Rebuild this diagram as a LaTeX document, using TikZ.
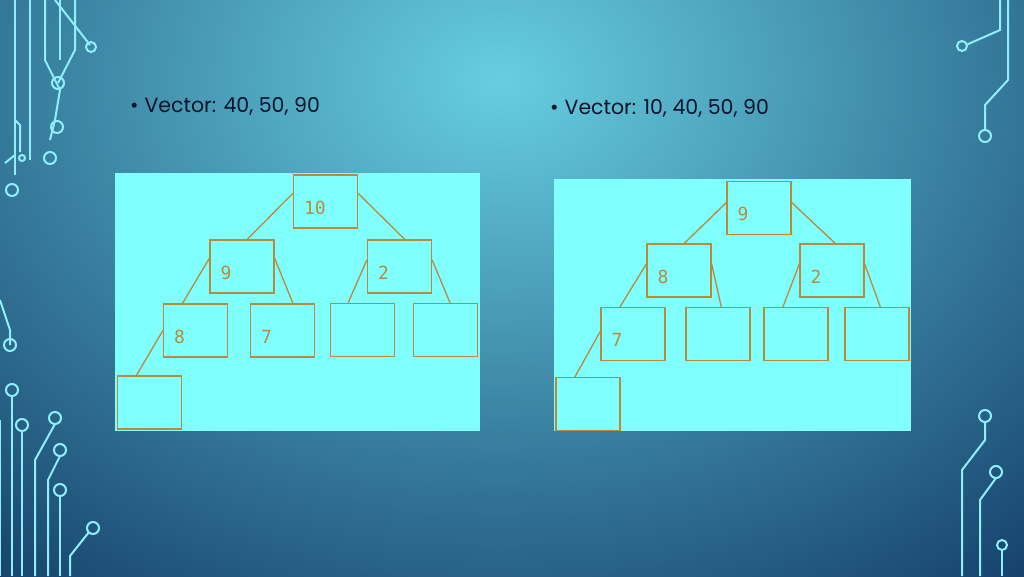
\documentclass[tikz,border=0pt]{standalone}
\usepackage{fontspec}
\setmainfont{Poppins}
\setmonofont{DejaVu Sans Mono}
\usetikzlibrary{calc}
\definecolor{panel}{HTML}{80FFFF}
\definecolor{bord}{HTML}{B98A3A}
\definecolor{circ}{HTML}{8FEFFA}
\definecolor{ink}{HTML}{08142A}
\definecolor{bgbot}{HTML}{0E3562}
\definecolor{glow}{HTML}{66CEE0}
\tikzset{
  bx/.style={draw=bord,line width=1.3pt,minimum width=64pt,minimum height=53pt,inner sep=0pt},
  lbl/.style={text=bord,font=\ttfamily\fontsize{18}{18}\selectfont,anchor=west,xshift=11pt,yshift=-6pt,inner sep=0pt},
  ed/.style={draw=bord,line width=1.3pt},
  ct/.style={draw=circ,line width=2pt},
  bul/.style={text=ink,font=\fontsize{20.5}{20.5}\selectfont,anchor=west,inner sep=0pt}
}
\newcommand{\mybox}[4]{\node[bx] (#1) at (#2,#3) {}; \node[lbl] (#1l) at (#1.west) {#4};}
\begin{document}
\begin{tikzpicture}[x=1pt,y=-1pt]
\useasboundingbox (0,0) rectangle (1024,576);
\begin{scope}
\clip (0,0) rectangle (1024,576);
\shade[inner color=glow, outer color=bgbot] (500,80) ellipse (900 and 700);
\end{scope}
% circuits
\begin{scope}[ct]
\draw (30,0) -- (30,160); \draw (45,0) -- (45,60) -- (60,90) -- (55,120)--(50,140);
\draw (60,0)--(60,60); \draw (75,0)--(75,50)--(58,83);
\draw (15,0)--(15,175); \draw (15,120)--(20,125)--(20,152);
\draw (5,163)--(15,155);
\draw (55,0)--(90,45);
\draw (91,47) circle (5); \draw (58,83) circle (6); \draw (57,127) circle (6); \draw (50,158) circle (6); \draw (22,158) circle (3); \draw (12,190) circle (6);
\draw (0,300)--(10,330)--(10,345); \draw (10,345) circle (6);
\draw (12,390) circle (6); \draw (12,396)--(12,576);
\draw (0,420)--(0,576); \draw (22,425) circle (6); \draw (22,431)--(22,576);
\draw (55,418) circle (6); \draw (55,424)--(35,460)--(35,576);
\draw (60,450) circle (6); \draw (60,456)--(48,480)--(48,576);
\draw (60,490) circle (6); \draw (60,496)--(60,576);
\draw (93,528) circle (6); \draw (89,532)--(70,556)--(70,576);
\draw (1000,0)--(1000,30)--(966,45); \draw (962,46) circle (5);
\draw (1008,0)--(1008,80)--(985,105)--(985,130); \draw (985,136) circle (6);
\draw (985,416) circle (6); \draw (985,422)--(985,440)--(962,470)--(962,576);
\draw (996,472) circle (6); \draw (996,478)--(980,500)--(980,576);
\draw (1002,545) circle (5); \draw (1002,550)--(1002,576);
\end{scope}
% bullets
\node[bul] (t1) at (130,106) {•\hspace{6pt}Vector: 40, 50, 90};
\node[bul] (t2) at (550,108) {•\hspace{6pt}Vector: 10, 40, 50, 90};
% left panel
\fill[panel] (115,173) rectangle (480,431);
\mybox{a10}{325.5}{201.5}{10}
\mybox{a9}{242}{266.5}{9}
\mybox{a2}{399.5}{266.5}{2}
\mybox{a8}{195.5}{330.5}{8}
\mybox{a7}{282.5}{330.5}{7}
\mybox{a6}{362.5}{330}{}
\mybox{a5}{445.5}{330}{}
\mybox{a4}{149.5}{402.5}{}
\draw[ed] ($(a10.north west)!0.35!(a10.south west)$) -- ($(a9.north west)!0.58!(a9.north east)$);
\draw[ed] ($(a10.north east)!0.35!(a10.south east)$) -- ($(a2.north west)!0.58!(a2.north east)$);
\draw[ed] ($(a9.north west)!0.35!(a9.south west)$) -- ($(a8.north west)!0.3!(a8.north east)$);
\draw[ed] ($(a9.north east)!0.35!(a9.south east)$) -- ($(a7.north west)!0.66!(a7.north east)$);
\draw[ed] ($(a2.north west)!0.38!(a2.south west)$) -- ($(a6.north west)!0.28!(a6.north east)$);
\draw[ed] ($(a2.north east)!0.38!(a2.south east)$) -- ($(a5.north west)!0.57!(a5.north east)$);
\draw[ed] ($(a8.north west)!0.5!(a8.south west)$) -- ($(a4.north west)!0.3!(a4.north east)$);
% right panel
\fill[panel] (554,179) rectangle (911,431);
\mybox{b9}{759}{208}{9}
\mybox{b8}{679}{270.5}{8}
\mybox{b2}{832}{270.5}{2}
\mybox{b7}{633}{334}{7}
\mybox{b6}{718}{334}{}
\mybox{b5}{796}{334}{}
\mybox{b4}{877}{334}{}
\mybox{b3}{588}{404}{}
\draw[ed] ($(b9.north west)!0.4!(b9.south west)$) -- ($(b8.north west)!0.58!(b8.north east)$);
\draw[ed] ($(b9.north east)!0.4!(b9.south east)$) -- ($(b2.north west)!0.55!(b2.north east)$);
\draw[ed] ($(b8.north west)!0.38!(b8.south west)$) -- ($(b7.north west)!0.3!(b7.north east)$);
\draw[ed] ($(b8.north east)!0.38!(b8.south east)$) -- ($(b6.north west)!0.55!(b6.north east)$);
\draw[ed] ($(b2.north west)!0.38!(b2.south west)$) -- ($(b5.north west)!0.3!(b5.north east)$);
\draw[ed] ($(b2.north east)!0.38!(b2.south east)$) -- ($(b4.north west)!0.55!(b4.north east)$);
\draw[ed] ($(b7.north west)!0.45!(b7.south west)$) -- ($(b3.north west)!0.3!(b3.north east)$);
\end{tikzpicture}
\end{document}
